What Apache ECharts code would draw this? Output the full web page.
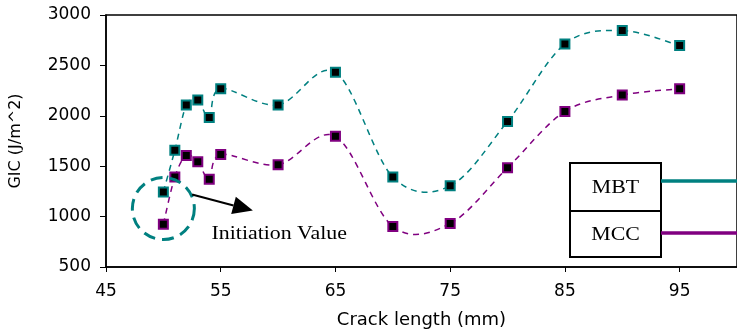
<!DOCTYPE html>
<html>
    <head>
        <meta charset="utf-8" />
        <script src="https://cdn.jsdelivr.net/npm/echarts@6/dist/echarts.min.js"></script>
    </head>
    <body style="margin: 0">
        <style>
            html,
            body,
            #main {
                width: 737px;
                height: 334px;
                background: #fff;
            }
        </style>
        <div id="main"></div>
        <script>
            // crack length (mm) and fracture energy GIC (J/m^2)
            var crackLength = [50, 51, 52, 53, 54, 55, 60, 65, 70, 75, 80, 85, 90, 95];
            var mbtValues = [1245, 1658, 2107, 2157, 1983, 2269, 2107, 2432, 1393, 1305, 1944, 2712, 2845, 2697];
            var mccValues = [925, 1393, 1605, 1543, 1370, 1615, 1514, 1796, 902, 932, 1484, 2043, 2206, 2268];
            var seriesNames = ["MBT", "MCC"];
            var seriesColors = ["#008080", "#800080"];

            var chart = echarts.init(document.getElementById("main"));

            function pairs(xs, ys) {
                var out = [];
                for (var i = 0; i < xs.length; i++) {
                    out.push([xs[i], ys[i]]);
                }
                return out;
            }

            // spreadsheet-style smoothed line (catmull-rom), one bezier per segment
            function curveSeries(name, color, values) {
                var n = values.length;
                return {
                    name: name,
                    type: "custom",
                    data: pairs(crackLength, values),
                    clip: false,
                    z: 2,
                    renderItem: function (params, api) {
                        var i = params.dataIndex;
                        if (i >= n - 1) return null;
                        var idx = [Math.max(i - 1, 0), i, i + 1, Math.min(i + 2, n - 1)];
                        var p = idx.map(function (k) {
                            return api.coord([crackLength[k], values[k]]);
                        });
                        return {
                            type: "bezierCurve",
                            shape: {
                                x1: p[1][0],
                                y1: p[1][1],
                                x2: p[2][0],
                                y2: p[2][1],
                                cpx1: p[1][0] + (p[2][0] - p[0][0]) / 6,
                                cpy1: p[1][1] + (p[2][1] - p[0][1]) / 6,
                                cpx2: p[2][0] - (p[3][0] - p[1][0]) / 6,
                                cpy2: p[2][1] - (p[3][1] - p[1][1]) / 6,
                            },
                            style: { fill: "none", stroke: color, lineWidth: 1.5, lineDash: [6, 5] },
                        };
                    },
                };
            }

            function markerSeries(name, color, values) {
                return {
                    name: name,
                    type: "scatter",
                    data: pairs(crackLength, values),
                    symbol: "rect",
                    symbolSize: 9,
                    itemStyle: { color: "#000", borderColor: color, borderWidth: 2, opacity: 1 },
                    z: 3,
                };
            }

            var axisFont = { fontFamily: "DejaVu Sans", fontSize: 17, color: "#000" };
            function plain(v) {
                return String(v);
            }

            chart.setOption({
                animation: false,
                grid: {
                    left: 104,
                    top: 15,
                    right: -6,
                    bottom: 65,
                    show: true,
                    borderColor: "#000",
                    borderWidth: 1.5,
                },
                xAxis: {
                    type: "value",
                    min: 45,
                    max: 100,
                    interval: 10,
                    name: "Crack length (mm)",
                    nameLocation: "middle",
                    nameGap: 44,
                    nameTextStyle: { fontFamily: "DejaVu Sans", fontSize: 18, color: "#000" },
                    axisLine: { lineStyle: { color: "#000", width: 1.5 } },
                    axisTick: { length: 5, lineStyle: { color: "#000" } },
                    axisLabel: Object.assign({ margin: 16, showMaxLabel: false, formatter: plain }, axisFont),
                    splitLine: { show: false },
                },
                yAxis: {
                    type: "value",
                    min: 500,
                    max: 3000,
                    interval: 500,
                    name: "GIC (J/m^2)",
                    nameLocation: "middle",
                    nameGap: 82,
                    nameTextStyle: { fontFamily: "DejaVu Sans", fontSize: 16, color: "#000" },
                    axisLine: { show: true, lineStyle: { color: "#000", width: 1.5 } },
                    axisTick: { show: true, length: 6, lineStyle: { color: "#000" } },
                    axisLabel: Object.assign({ margin: 15, formatter: plain }, axisFont),
                    splitLine: { show: false },
                },
                series: [
                    curveSeries(seriesNames[0], seriesColors[0], mbtValues),
                    curveSeries(seriesNames[1], seriesColors[1], mccValues),
                    markerSeries(seriesNames[0], seriesColors[0], mbtValues),
                    markerSeries(seriesNames[1], seriesColors[1], mccValues),
                ],
            });

            function px(x, y) {
                return chart.convertToPixel({ gridIndex: 0 }, [x, y]);
            }

            // annotation: dashed circle, arrow and label
            var c = px(50, 1080);
            var a0 = px(52.5, 1220);
            var a1 = px(57.8, 1060);
            var dx = a1[0] - a0[0];
            var dy = a1[1] - a0[1];
            var len = Math.sqrt(dx * dx + dy * dy);
            var ux = dx / len;
            var uy = dy / len;
            var hl = 20;
            var hw = 9;
            var bx = a1[0] - ux * hl;
            var by = a1[1] - uy * hl;
            var lbl = px(54.2, 830);

            // legend table at the right
            var boxL = 570, boxR = 661, boxT = 163, boxM = 211, boxB = 257;
            var legendEls = [
                {
                    type: "rect",
                    shape: { x: boxL, y: boxT, width: boxR - boxL, height: boxB - boxT },
                    style: { fill: "#fff", stroke: "#000", lineWidth: 2 },
                    z: 10,
                },
                {
                    type: "line",
                    shape: { x1: boxL, y1: boxM, x2: boxR, y2: boxM },
                    style: { stroke: "#000", lineWidth: 2 },
                    z: 11,
                },
            ];
            var rows = [(boxT + boxM) / 2, (boxM + boxB) / 2];
            var lineYs = [181, 233];
            for (var i = 0; i < seriesNames.length; i++) {
                legendEls.push({
                    type: "text",
                    x: (boxL + boxR) / 2,
                    y: rows[i] + 1,
                    scaleX: 1.15,
                    style: {
                        text: seriesNames[i],
                        fontFamily: "Liberation Serif",
                        fontSize: 19,
                        fill: "#000",
                        align: "center",
                        verticalAlign: "middle",
                    },
                    z: 11,
                });
                legendEls.push({
                    type: "line",
                    shape: { x1: boxR, y1: lineYs[i], x2: 737, y2: lineYs[i] },
                    style: { stroke: seriesColors[i], lineWidth: 3.5 },
                    z: 11,
                });
            }

            chart.setOption({
                graphic: [
                    {
                        type: "circle",
                        shape: { cx: c[0], cy: c[1], r: 31 },
                        style: { fill: "none", stroke: "#008080", lineWidth: 3, lineDash: [12, 7] },
                        z: 5,
                    },
                    {
                        type: "line",
                        shape: { x1: a0[0], y1: a0[1], x2: bx, y2: by },
                        style: { stroke: "#000", lineWidth: 2 },
                        z: 5,
                    },
                    {
                        type: "polygon",
                        shape: {
                            points: [
                                [a1[0], a1[1]],
                                [bx - uy * hw, by + ux * hw],
                                [bx + uy * hw, by - ux * hw],
                            ],
                        },
                        style: { fill: "#000" },
                        z: 5,
                    },
                    {
                        type: "text",
                        x: lbl[0],
                        y: lbl[1],
                        scaleX: 1.15,
                        style: {
                            text: "Initiation Value",
                            fontFamily: "Liberation Serif",
                            fontSize: 19,
                            fill: "#000",
                            align: "left",
                            verticalAlign: "middle",
                        },
                        z: 5,
                    },
                ].concat(legendEls),
            });
        </script>
    </body>
</html>
